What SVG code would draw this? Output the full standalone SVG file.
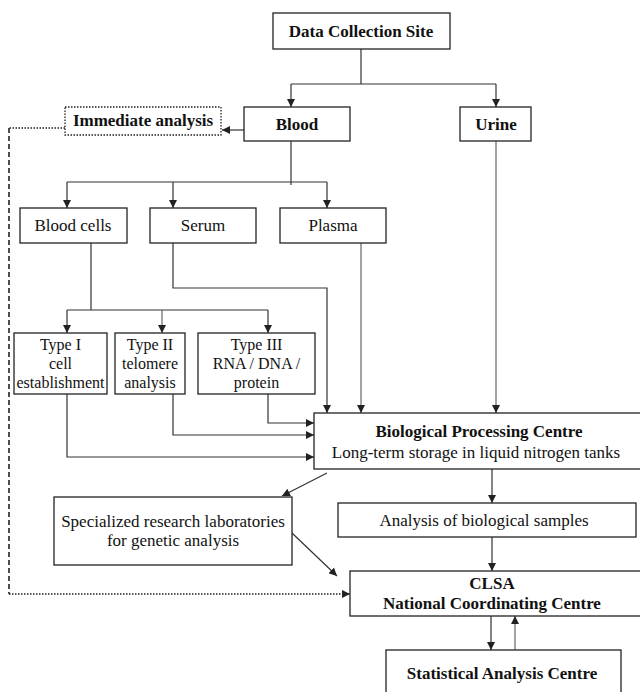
<svg xmlns="http://www.w3.org/2000/svg" width="640" height="692" viewBox="0 0 640 692">
<defs>
<marker id="ah" viewBox="0 0 10 10" refX="10" refY="5" markerWidth="8" markerHeight="8" markerUnits="userSpaceOnUse" orient="auto">
<path d="M0,0 L10,5 L0,10 z" fill="#222"/>
</marker>
<style>
.box{fill:#fff;stroke:#222;stroke-width:1.3}
.dot{fill:#fff;stroke:#222;stroke-width:1.3;stroke-dasharray:1.5 1.5}
.ln{fill:none;stroke:#333;stroke-width:1.2}
.gr{fill:none;stroke:#666;stroke-width:1.2}
.dl{fill:none;stroke:#222;stroke-width:1.3;stroke-dasharray:1.5 1.5}
.dv{fill:none;stroke:#222;stroke-width:1.6;stroke-dasharray:5 3}
text{font-family:"Liberation Serif","Times New Roman",serif;font-size:17px;fill:#111;text-anchor:middle}
.b{font-weight:bold}
.s{font-size:16px}
</style>
</defs>
<g id="connectors">
<path class="ln" d="M361,49 V84"/>
<path class="ln" d="M291,84 H496"/>
<path class="ln" d="M291,84 V107" marker-end="url(#ah)"/>
<path class="ln" d="M496,84 V107" marker-end="url(#ah)"/>
<path class="ln" d="M244,130 H222" marker-end="url(#ah)"/>
<path class="ln" d="M291,141 V185"/>
<path class="ln" d="M67,182 H327"/>
<path class="ln" d="M67,182 V208" marker-end="url(#ah)"/>
<path class="ln" d="M173,182 V208" marker-end="url(#ah)"/>
<path class="ln" d="M327,182 V208" marker-end="url(#ah)"/>
<path class="gr" d="M496,141 V413" marker-end="url(#ah)"/>
<path class="gr" d="M361,243 V413" marker-end="url(#ah)"/>
<path class="ln" d="M173,243 V288 H327 V413" marker-end="url(#ah)"/>
<path class="ln" d="M91,243 V310"/>
<path class="ln" d="M67,310 H268"/>
<path class="ln" d="M67,310 V333" marker-end="url(#ah)"/>
<path class="gr" d="M162,310 V333" marker-end="url(#ah)"/>
<path class="ln" d="M268,310 V333" marker-end="url(#ah)"/>
<path class="ln" d="M268,394 V423 H314" marker-end="url(#ah)"/>
<path class="ln" d="M173,394 V435 H314" marker-end="url(#ah)"/>
<path class="ln" d="M67,394 V457 H314" marker-end="url(#ah)"/>
<path class="ln" d="M327,473 L282,496" marker-end="url(#ah)"/>
<path class="ln" d="M492,469 V503" marker-end="url(#ah)"/>
<path class="ln" d="M492,537 V571" marker-end="url(#ah)"/>
<path class="ln" d="M292,533 L337,576" marker-end="url(#ah)"/>
<path class="ln" d="M491,616 V650" marker-end="url(#ah)"/>
<path class="gr" d="M515,650 V616" marker-end="url(#ah)"/>
<path class="dl" d="M65,128 H9"/>
<path class="dv" d="M9,128 V594"/>
<path class="dl" d="M9,594 H350" marker-end="url(#ah)"/>
</g>
<g id="data-collection-site">
<rect class="box" x="273" y="13" width="177" height="36"/>
<text class="b" x="361" y="37">Data Collection Site</text>
</g>
<g id="immediate-analysis">
<rect class="dot" x="65" y="107" width="156" height="28"/>
<text class="b" x="143" y="126">Immediate analysis</text>
</g>
<g id="blood">
<rect class="box" x="244" y="107" width="106" height="34"/>
<text class="b" x="297" y="130">Blood</text>
</g>
<g id="urine">
<rect class="box" x="460" y="107" width="71" height="34"/>
<text class="b" x="496" y="130">Urine</text>
</g>
<g id="blood-cells">
<rect class="box" x="20" y="208" width="107" height="35"/>
<text x="73" y="231">Blood cells</text>
</g>
<g id="serum">
<rect class="box" x="150" y="208" width="106" height="35"/>
<text x="203" y="231">Serum</text>
</g>
<g id="plasma">
<rect class="box" x="280" y="208" width="106" height="35"/>
<text x="333" y="231">Plasma</text>
</g>
<g id="type-i">
<rect class="box" x="14" y="333" width="93" height="61"/>
<text class="s" x="60.5" y="350">Type I</text>
<text class="s" x="60.5" y="369">cell</text>
<text class="s" x="60.5" y="388">establishment</text>
</g>
<g id="type-ii">
<rect class="box" x="115" y="333" width="70" height="61"/>
<text class="s" x="150" y="350">Type II</text>
<text class="s" x="150" y="369">telomere</text>
<text class="s" x="150" y="388">analysis</text>
</g>
<g id="type-iii">
<rect class="box" x="198" y="333" width="117" height="61"/>
<text class="s" x="256.5" y="350">Type III</text>
<text class="s" x="256.5" y="369">RNA / DNA /</text>
<text class="s" x="256.5" y="388">protein</text>
</g>
<g id="biological-processing-centre">
<rect class="box" x="314" y="413" width="336" height="56"/>
<text class="b" x="479" y="437">Biological Processing Centre</text>
<text x="476" y="458">Long-term storage in liquid nitrogen tanks</text>
</g>
<g id="specialized-labs">
<rect class="box" x="54" y="497" width="238" height="68"/>
<text x="173" y="527">Specialized research laboratories</text>
<text x="173" y="546">for genetic analysis</text>
</g>
<g id="analysis-samples">
<rect class="box" x="338" y="503" width="298" height="34"/>
<text x="484" y="526">Analysis of biological samples</text>
</g>
<g id="clsa">
<rect class="box" x="350" y="571" width="300" height="45"/>
<text class="b" x="492" y="589">CLSA</text>
<text class="b" x="492" y="609">National Coordinating Centre</text>
</g>
<g id="statistical-analysis-centre">
<rect class="box" x="386" y="650" width="235" height="60"/>
<text class="b" x="502" y="679">Statistical Analysis Centre</text>
</g>
</svg>
